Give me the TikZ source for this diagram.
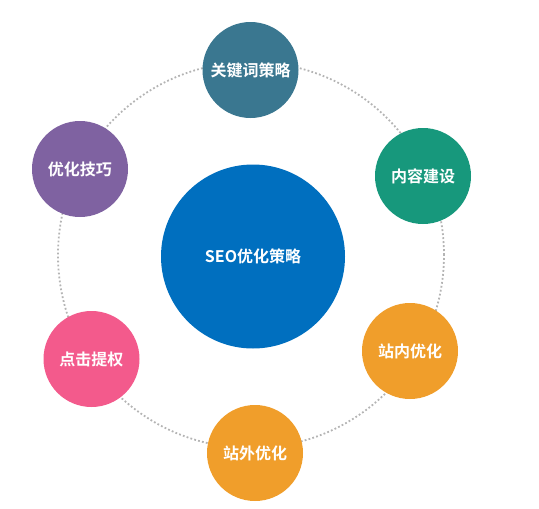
\documentclass[tikz,border=0pt]{standalone}
\usepackage{fontspec}
\newfontfamily\cjk{Noto Sans CJK SC}[BoldFont={Noto Sans CJK SC Bold}]
\definecolor{ctop}{HTML}{3A7790}
\definecolor{cgreen}{HTML}{17987C}
\definecolor{corange}{HTML}{F09E2B}
\definecolor{cpink}{HTML}{F35A8C}
\definecolor{cpurple}{HTML}{7F62A1}
\definecolor{cblue}{HTML}{006FBF}
\definecolor{cring}{HTML}{B4B4B4}
\tikzset{
  ball/.style={circle, inner sep=0pt, minimum size=96pt, text=white, font=\cjk\bfseries\fontsize{16}{18}\selectfont},
  bigball/.style={ball, minimum size=184pt},
  ring/.style={draw=cring, line width=1.8pt, dash pattern=on 1.8pt off 2.2pt}
}
\begin{document}
\begin{tikzpicture}[x=1pt,y=-1pt]
\useasboundingbox (0,0) rectangle (539,509);
\coordinate (rc) at (251,255);
\draw[ring] (rc) circle[radius=193pt];
\node[bigball, fill=cblue] (seo) at (253,256.5) {SEO优化策略};
\node[ball, fill=ctop] (kw) at (250.5,70) {关键词策略};
\node[ball, fill=cgreen] (nr) at (423,176) {内容建设};
\node[ball, fill=corange] (zn) at (410,351) {站内优化};
\node[ball, fill=corange] (zw) at (255,453) {站外优化};
\node[ball, fill=cpink] (dj) at (91.5,359) {点击提权};
\node[ball, fill=cpurple] (yh) at (80,169) {优化技巧};
\end{tikzpicture}
\end{document}
